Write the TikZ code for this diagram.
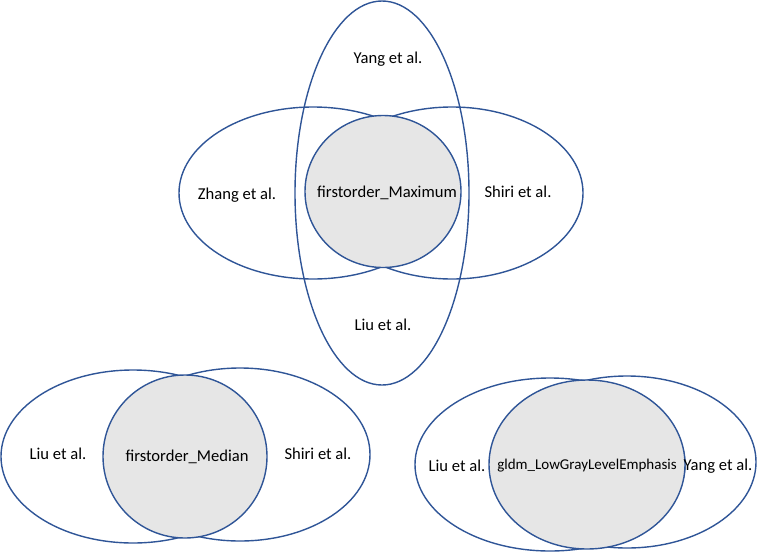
\documentclass[tikz,border=0pt]{standalone}
\usepackage{fontspec}
\setmainfont{Carlito}
\usetikzlibrary{shapes.geometric}
\definecolor{ln}{HTML}{2F5597}
\definecolor{fl}{HTML}{E6E6E6}
\tikzset{
  ell/.style={ellipse, draw=ln, line width=1.4pt, inner sep=0pt, outer sep=0pt},
  core/.style={ell, fill=fl},
  lbl/.style={inner sep=0pt, font=\fontsize{16.6}{19}\selectfont, text=black},
  lbls/.style={inner sep=0pt, font=\fontsize{15}{17}\selectfont, text=black}
}
\begin{document}
\begin{tikzpicture}[x=1pt,y=-1pt]
\useasboundingbox (0,0) rectangle (757,552);
% top group
\node[ell, minimum width=174, minimum height=384] (tv) at (382,193) {};
\node[ell, minimum width=268, minimum height=172] (tl) at (313,193) {};
\node[ell, minimum width=262, minimum height=172] (tr) at (452,193) {};
\node[core, minimum width=156, minimum height=152] (tc) at (383,191.5) {};
\node[lbl] (tyang) at (388,59) {Yang et al.};
\node[lbl] (tzhang) at (237,195) {Zhang et al.};
\node[lbl] (tmax) at (387,193) {firstorder\_Maximum};
\node[lbl] (tshiri) at (518,192) {Shiri et al.};
\node[lbl] (tliu) at (383,325) {Liu et al.};
% bottom left group
\node[ell, minimum width=264, minimum height=173] (bll) at (133,456.5) {};
\node[ell, minimum width=260, minimum height=173] (blr) at (240,454.5) {};
\node[core, minimum width=164, minimum height=163] (blc) at (185,456.5) {};
\node[lbl] (blliu) at (58,454) {Liu et al.};
\node[lbl] (blmed) at (187,457) {firstorder\_Median};
\node[lbl] (blshiri) at (318,454) {Shiri et al.};
% bottom right group
\node[ell, minimum width=270, minimum height=173] (brl) at (550,464.5) {};
\node[ell, minimum width=258, minimum height=172] (brr) at (627,462) {};
\node[core, minimum width=196, minimum height=169] (brc) at (587,464.5) {};
\node[lbl] (brliu) at (457,466) {Liu et al.};
\node[lbls] (brgldm) at (587,466) {gldm\_LowGrayLevelEmphasis};
\node[lbl] (bryang) at (718,466) {Yang et al.};
\end{tikzpicture}
\end{document}
